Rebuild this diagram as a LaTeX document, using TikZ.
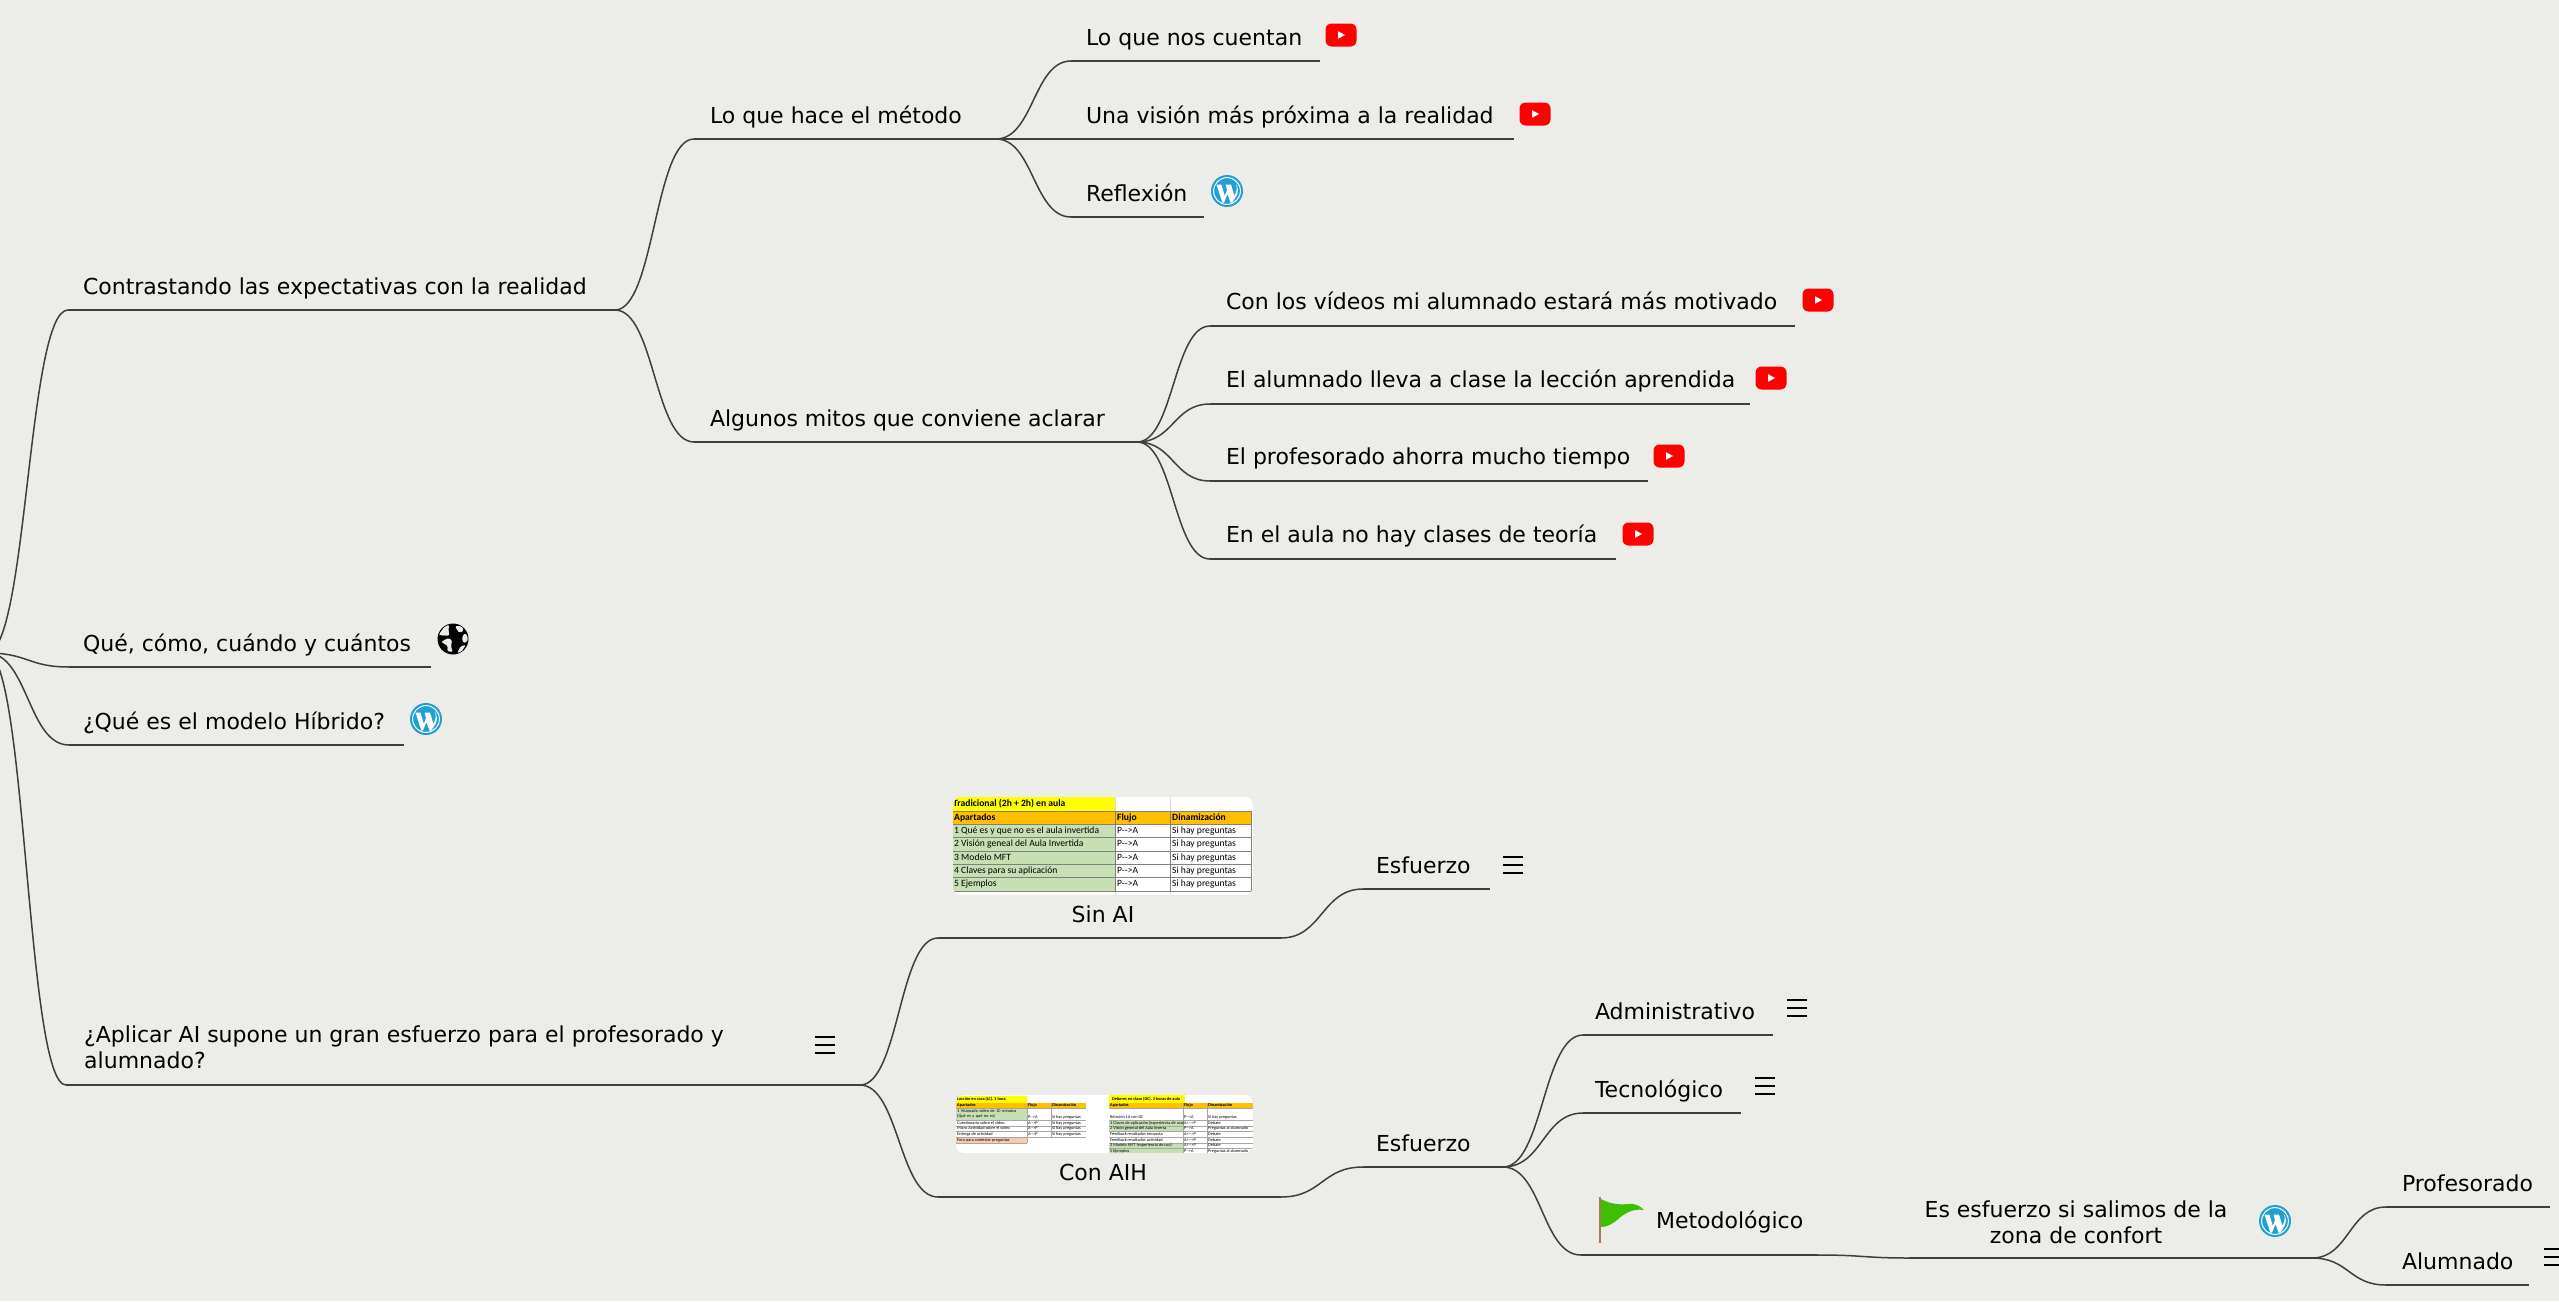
\documentclass[tikz,border=0pt]{standalone}
\usepackage{fontspec}
\setmainfont{DejaVu Sans}
\newfontfamily\tablefont{Carlito}
\usetikzlibrary{calc}
\definecolor{bgc}{HTML}{ECEDE8}
\definecolor{linec}{HTML}{3E3E3A}
\definecolor{txtc}{HTML}{000000}
\definecolor{wpblue}{HTML}{21A0D2}
\definecolor{ytred}{HTML}{FF0000}
\definecolor{hdrc}{HTML}{FFC000}
\definecolor{ttlc}{HTML}{FFFF00}
\definecolor{grnc}{HTML}{C6E0B4}
\definecolor{orgc}{HTML}{F8CBAD}
\definecolor{gridc}{HTML}{808080}
\definecolor{flagg}{HTML}{3CC000}
\definecolor{poleb}{HTML}{A5795A}
\newcommand{\pa}{P-{}->A}
\newcommand{\ap}{A-{}->P}
\newcommand{\abp}{A<-{}->P}
\tikzset{
  topictext/.style={anchor=base west,inner sep=0pt,outer sep=0pt,text=txtc,font=\fontsize{22}{27}\selectfont},
  captext/.style={anchor=base,inner sep=0pt,outer sep=0pt,text=txtc,font=\fontsize{22}{27}\selectfont},
  uline/.style={draw=linec,line width=1.9pt},
  thickseg/.style={draw=linec,line width=2.4pt},
  conn/.style={draw=linec,line width=1.5pt},
  tcell/.style={anchor=west,inner sep=0pt,text=black,text height=6.4pt,text depth=2pt,font=\tablefont\fontsize{9.6}{10}\selectfont},
  tcellb/.style={tcell,font=\tablefont\bfseries\fontsize{9.6}{10}\selectfont},
  scellraw/.style={anchor=west,inner sep=0pt,text=black,font=\tablefont\fontsize{4.3}{4.6}\selectfont},
  scell/.style={scellraw,text height=2.9pt,text depth=0.9pt},
  scellb/.style={scell,font=\tablefont\bfseries\fontsize{4.3}{4.6}\selectfont},
  wpicon/.pic={
    \fill[wpblue] (0,0) circle (16);
    \draw[white,line width=1pt] (0,0) circle (13.4);
    \fill[white] (-10.5,-6.5) -- (-5.6,-6.5) -- (-2.2,5) -- (0,-1) -- (-1.4,-6.5) -- (4,-6.5) -- (7.4,5) -- (9.4,0) .. controls (10.2,-2.6) and (10,-5) .. (8.6,-7.4) .. controls (11.4,-4) and (11.6,1) .. (9.4,5) -- (5.2,11.6) -- (3.6,11.6) -- (0.4,3) -- (-3,11.6) -- (-4.6,11.6) -- cycle;
  },
  yticon/.pic={
    \fill[ytred,rounded corners=6pt] (-15.5,-11.5) rectangle (15.5,11.5);
    \fill[white] (-3,-3.8) -- (4,0) -- (-3,3.8) -- cycle;
  },
  menuicon/.pic={
    \fill[black] (-10,-9) rectangle (10,-6.9);
    \fill[black] (-10,-1.1) rectangle (10,1.3);
    \fill[black] (-10,6.5) rectangle (10,9);
  },
  globeicon/.pic={
    \fill[black] (0,0) circle (15.5);
    \fill[bgc,rounded corners=2pt] (-14.5,-4) -- (-8,-13) -- (-3.5,-14) -- (-5,-8) -- (-3,-4) -- (-8,-3) -- (-11,-4) -- cycle;
    \fill[bgc,rounded corners=1.5pt] (-12,3) -- (-5,-1) -- (-1,1) -- (-2,8) -- (0,13) -- (-6,12) -- (-5,7) -- (-10,4) -- cycle;
    \fill[bgc,rounded corners=1.5pt] (2,-13) -- (8,-13) -- (11,-9) -- (7,-6) -- (4,-9) -- cycle;
    \fill[bgc,rounded corners=1.5pt] (12,-6) -- (15,-2) -- (14,3) -- (10,4) -- (9,-2) -- cycle;
    \fill[bgc,rounded corners=1.5pt] (8,7) -- (13,6) -- (8,13) -- (4,14) -- cycle;
  },
}
\newcommand{\mmtopic}[6]{% id, x1, x2, y, textx, text
  \coordinate (#1-l) at (#2,#4);
  \coordinate (#1-r) at (#3,#4);
  \draw[uline] (#1-l) -- (#1-r);
  \node[topictext] (#1) at (#5,#4-16) {#6};
}
\newcommand{\mmline}[4]{% id, x1, x2, y
  \coordinate (#1-l) at (#2,#4);
  \coordinate (#1-r) at (#3,#4);
  \draw[uline] (#1-l) -- (#1-r);
}
\newcommand{\mmjunction}[2]{% id, x
  \coordinate (#1-j) at (#2,0 |- #1-r);
  \draw[thickseg] (#1-r) -- (#1-j);
}
\newcommand{\branch}[2]{%
  \draw[conn] let \p1=(#1),\p2=(#2),\n1={0.5*(\x2-\x1)} in (#1) .. controls +(\n1,0) and +(-\n1,0) .. (#2);
}
\begin{document}
\begin{tikzpicture}[x=1pt,y=-1pt]
\useasboundingbox (0,0) rectangle (2559,1301);
\fill[bgc] (0,0) rectangle (2559,1301);
\coordinate (root) at (-13,653);
% level 1
\mmtopic{contr}{68}{603}{310}{83}{Contrastando las expectativas con la realidad}
\mmtopic{que}{69}{431}{667}{83}{Qué, cómo, cuándo y cuántos}
\mmtopic{hib}{69}{404}{745}{83}{¿Qué es el modelo Híbrido?}
\mmline{apl}{66}{801}{1085}
\mmjunction{apl}{860}
\node[anchor=base west,inner sep=0pt,text=txtc,font=\fontsize{22}{26}\selectfont,align=left] (apl) at (84,1068) {¿Aplicar AI supone un gran esfuerzo para el profesorado y\\alumnado?};
\branch{root}{contr-l}
\branch{root}{que-l}
\branch{root}{hib-l}
\branch{root}{apl-l}
% Contrastando
\mmjunction{contr}{615}
\mmtopic{hace}{694}{979}{139}{710}{Lo que hace el método}
\mmtopic{mitos}{694}{1120}{442}{710}{Algunos mitos que conviene aclarar}
\mmjunction{hace}{996}
\mmjunction{mitos}{1137}
\branch{contr-j}{hace-l}
\branch{contr-j}{mitos-l}
\mmtopic{cuentan}{1071}{1320}{61}{1086}{Lo que nos cuentan}
\mmtopic{vision}{1071}{1514}{139}{1086}{Una visión más próxima a la realidad}
\mmtopic{refl}{1071}{1204}{217}{1086}{Reflexión}
\branch{hace-j}{cuentan-l}
\branch{hace-j}{vision-l}
\branch{hace-j}{refl-l}
\mmline{mot}{1210}{1795}{326}
\mmline{lec}{1210}{1750}{404}
\mmline{ahorra}{1210}{1648}{481}
\mmline{teo}{1210}{1616}{559}
\node[topictext] (mott) at (1226,309) {Con los vídeos mi alumnado estará más motivado};
\node[topictext] (lect) at (1226,387) {El alumnado lleva a clase la lección aprendida};
\node[topictext] (ahorrat) at (1226,464) {El profesorado ahorra mucho tiempo};
\node[topictext] (teot) at (1226,542) {En el aula no hay clases de teoría};
\branch{mitos-j}{mot-l}
\branch{mitos-j}{lec-l}
\branch{mitos-j}{ahorra-l}
\branch{mitos-j}{teo-l}
\pic at (1341,35) {yticon};
\pic at (1535,114) {yticon};
\pic at (1227,191) {wpicon};
\pic at (1818,300) {yticon};
\pic at (1771,378) {yticon};
\pic at (1669,456) {yticon};
\pic at (1638,534) {yticon};
\pic at (453,639) {globeicon};
\pic at (426,719) {wpicon};
\pic at (825,1045) {menuicon};
% Sin AI
\mmline{sin}{938}{1281}{938}
\node[captext] (sincap) at (1103,922) {Sin AI};
\branch{apl-j}{sin-l}
\begin{scope}
\clip[rounded corners=8pt] (953,797) rectangle (1253,895);
\fill[white] (953,797) rectangle (1253,895);
\draw[gridc!30,line width=0.7pt] (1115,797) -- (1115,895) (1170,797) -- (1170,895) (953,895) -- (1253,895);
\fill[ttlc] (953,797) rectangle (1115,811);
\fill[hdrc] (953,811) rectangle (1251,824);
\fill[grnc] (953,824) rectangle (1115,891);
\draw[gridc,line width=0.7pt] (953,811) -- (1251,811) (953,824) -- (1251,824) (953,837) -- (1251,837) (953,851) -- (1251,851) (953,864) -- (1251,864) (953,877) -- (1251,877) (953,891) -- (1251,891) (1115,811) -- (1115,891) (1170,811) -- (1170,891) (1251,811) -- (1251,891);
\node[tcellb] (st0) at (953,804) {Tradicional (2h + 2h) en aula};
\end{scope}
\node[tcellb] (st1) at (954,818) {Apartados};
\node[tcellb] (st2) at (1117,818) {Flujo};
\node[tcellb] (st3) at (1172,818) {Dinamización};
\node[tcell] (sa1) at (954,831) {1 Qué es y que no es el aula invertida};
\node[tcell] (sa2) at (954,844) {2 Visión geneal del Aula Invertida};
\node[tcell] (sa3) at (954,858) {3 Modelo MFT};
\node[tcell] (sa4) at (954,871) {4 Claves para su aplicación};
\node[tcell] (sa5) at (954,884) {5 Ejemplos};
\foreach \yy/\nn in {831/1,844/2,858/3,871/4,884/5}{
  \node[tcell] (sf\nn) at (1117,\yy) {\pa};
  \node[tcell] (sd\nn) at (1172,\yy) {Si hay preguntas};
}
% Con AIH
\mmline{con}{938}{1281}{1197}
\node[captext] (concap) at (1103,1180) {Con AIH};
\branch{apl-j}{con-l}
\begin{scope}
\clip[rounded corners=8pt] (956,1095) rectangle (1253,1153);
\fill[white] (956,1095) rectangle (1253,1153);
\fill[ttlc] (956,1096) rectangle (1027,1103);
\fill[hdrc] (956,1103) rectangle (1086,1108);
\fill[grnc] (956,1108) rectangle (1027,1120);
\fill[orgc] (956,1137) rectangle (1027,1143);
\draw[gridc!70,line width=0.4pt] (956,1108) -- (1086,1108) (956,1120) -- (1086,1120) (956,1126) -- (1086,1126) (956,1131) -- (1086,1131) (956,1137) -- (1086,1137) (956,1143) -- (1027,1143) (1027,1103) -- (1027,1143) (1051,1103) -- (1051,1137);
\fill[ttlc] (1109,1095) rectangle (1185,1103);
\fill[hdrc] (1109,1103) rectangle (1253,1108);
\fill[grnc] (1109,1120) rectangle (1183,1131);
\fill[grnc] (1109,1143) rectangle (1183,1153);
\draw[gridc!70,line width=0.4pt] (1109,1108) -- (1253,1108) (1109,1120) -- (1253,1120) (1109,1126) -- (1253,1126) (1109,1131) -- (1253,1131) (1109,1137) -- (1253,1137) (1109,1143) -- (1253,1143) (1109,1148) -- (1253,1148) (1183,1103) -- (1183,1153) (1207,1103) -- (1207,1153);
\end{scope}
\node[scellb] (lt0) at (957,1099.5) {Lección en casa (LC). 1 hora};
\node[scellb] (lt1) at (957,1105.5) {Apartados};
\node[scellb] (lt2) at (1028,1105.5) {Flujo};
\node[scellb] (lt3) at (1052,1105.5) {Dinamización};
\node[scellraw,text width=68pt,align=left] (la1) at (957,1114) {1 Visionado vídeo de 10 minutos (Qué es y qué no es)};
\node[scell] (lf1) at (1028,1117.5) {\pa};
\node[scell] (ld1) at (1052,1117.5) {Si hay preguntas};
\foreach \yy/\nn/\tt in {1123/2/Cuestionario sobre el vídeo,1128.5/3/Micro Actividad sobre el vídeo,1134/4/Entrega de actividad}{
  \node[scell] (la\nn) at (957,\yy) {\tt};
  \node[scell] (lf\nn) at (1028,\yy) {\ap};
  \node[scell] (ld\nn) at (1052,\yy) {Si hay preguntas};
}
\node[scell] (la5) at (957,1140) {Foro para contestar preguntas};
\node[scellb] (rt0) at (1112,1099) {Deberes en clase (DC). 3 horas de aula};
\node[scellb] (rt1) at (1110,1105.5) {Apartados};
\node[scellb] (rt2) at (1184,1105.5) {Flujo};
\node[scellb] (rt3) at (1208,1105.5) {Dinamización};
\foreach \yy/\nn/\tta/\ttb/\ttc in {
 1117.5/1/Relación LA con DC/\pa/Si hay preguntas,
 1123/2/4 Claves de aplicación (experiencia de uso)/\abp/Debate,
 1128.5/3/2 Visión general del Aula Inversa/\pa/Preguntas al alumnado,
 1134/4/Feedback resultados encuesta/\abp/Debate,
 1140/5/Feedback resultados actividad/\abp/Debate,
 1145.5/6/3 Modelo MFT (experiencia de uso)/\abp/Debate,
 1151/7/5 Ejemplos/\pa/Preguntas al alumnado}{
  \node[scell] (ra\nn) at (1110,\yy) {\tta};
  \node[scell] (rf\nn) at (1184,\yy) {\ttb};
  \node[scell] (rd\nn) at (1208,\yy) {\ttc};
}
% Esfuerzo upper
\mmtopic{esfa}{1363}{1490}{889}{1376}{Esfuerzo}
\branch{sin-r}{esfa-l}
\pic at (1513,865) {menuicon};
% Esfuerzo lower
\mmtopic{esfb}{1363}{1490}{1167}{1376}{Esfuerzo}
\mmjunction{esfb}{1503}
\branch{con-r}{esfb-l}
\mmtopic{adm}{1583}{1773}{1035}{1595}{Administrativo}
\mmtopic{tec}{1583}{1741}{1113}{1595}{Tecnológico}
\mmline{met}{1581}{1818}{1255}
\node[topictext] (met) at (1656,1228) {Metodológico};
\branch{esfb-j}{adm-l}
\branch{esfb-j}{tec-l}
\branch{esfb-j}{met-l}
\pic at (1797,1008) {menuicon};
\pic at (1765,1086) {menuicon};
\fill[flagg] (1601,1199) .. controls (1610,1204) and (1620,1205) .. (1628,1204) .. controls (1635,1203) and (1640,1206) .. (1644,1210) .. controls (1632,1208) and (1624,1214) .. (1617,1220) .. controls (1611,1225) and (1606,1227) .. (1601,1227) -- cycle;
\draw[poleb,line width=2.6pt] (1600,1197) -- (1600,1243);
% Es esfuerzo
\mmline{zona}{1909}{2253}{1258}
\mmjunction{zona}{2312}
\node[anchor=base,inner sep=0pt,text=txtc,font=\fontsize{22}{26}\selectfont,align=center] (zona) at (2076,1243) {Es esfuerzo si salimos de la\\zona de confort};
\branch{met-r}{zona-l}
\pic at (2275,1221) {wpicon};
\mmtopic{prof}{2386}{2550}{1207}{2402}{Profesorado}
\mmtopic{alum}{2386}{2529}{1285}{2402}{Alumnado}
\branch{zona-j}{prof-l}
\branch{zona-j}{alum-l}
\pic at (2554,1257) {menuicon};
\end{tikzpicture}
\end{document}
